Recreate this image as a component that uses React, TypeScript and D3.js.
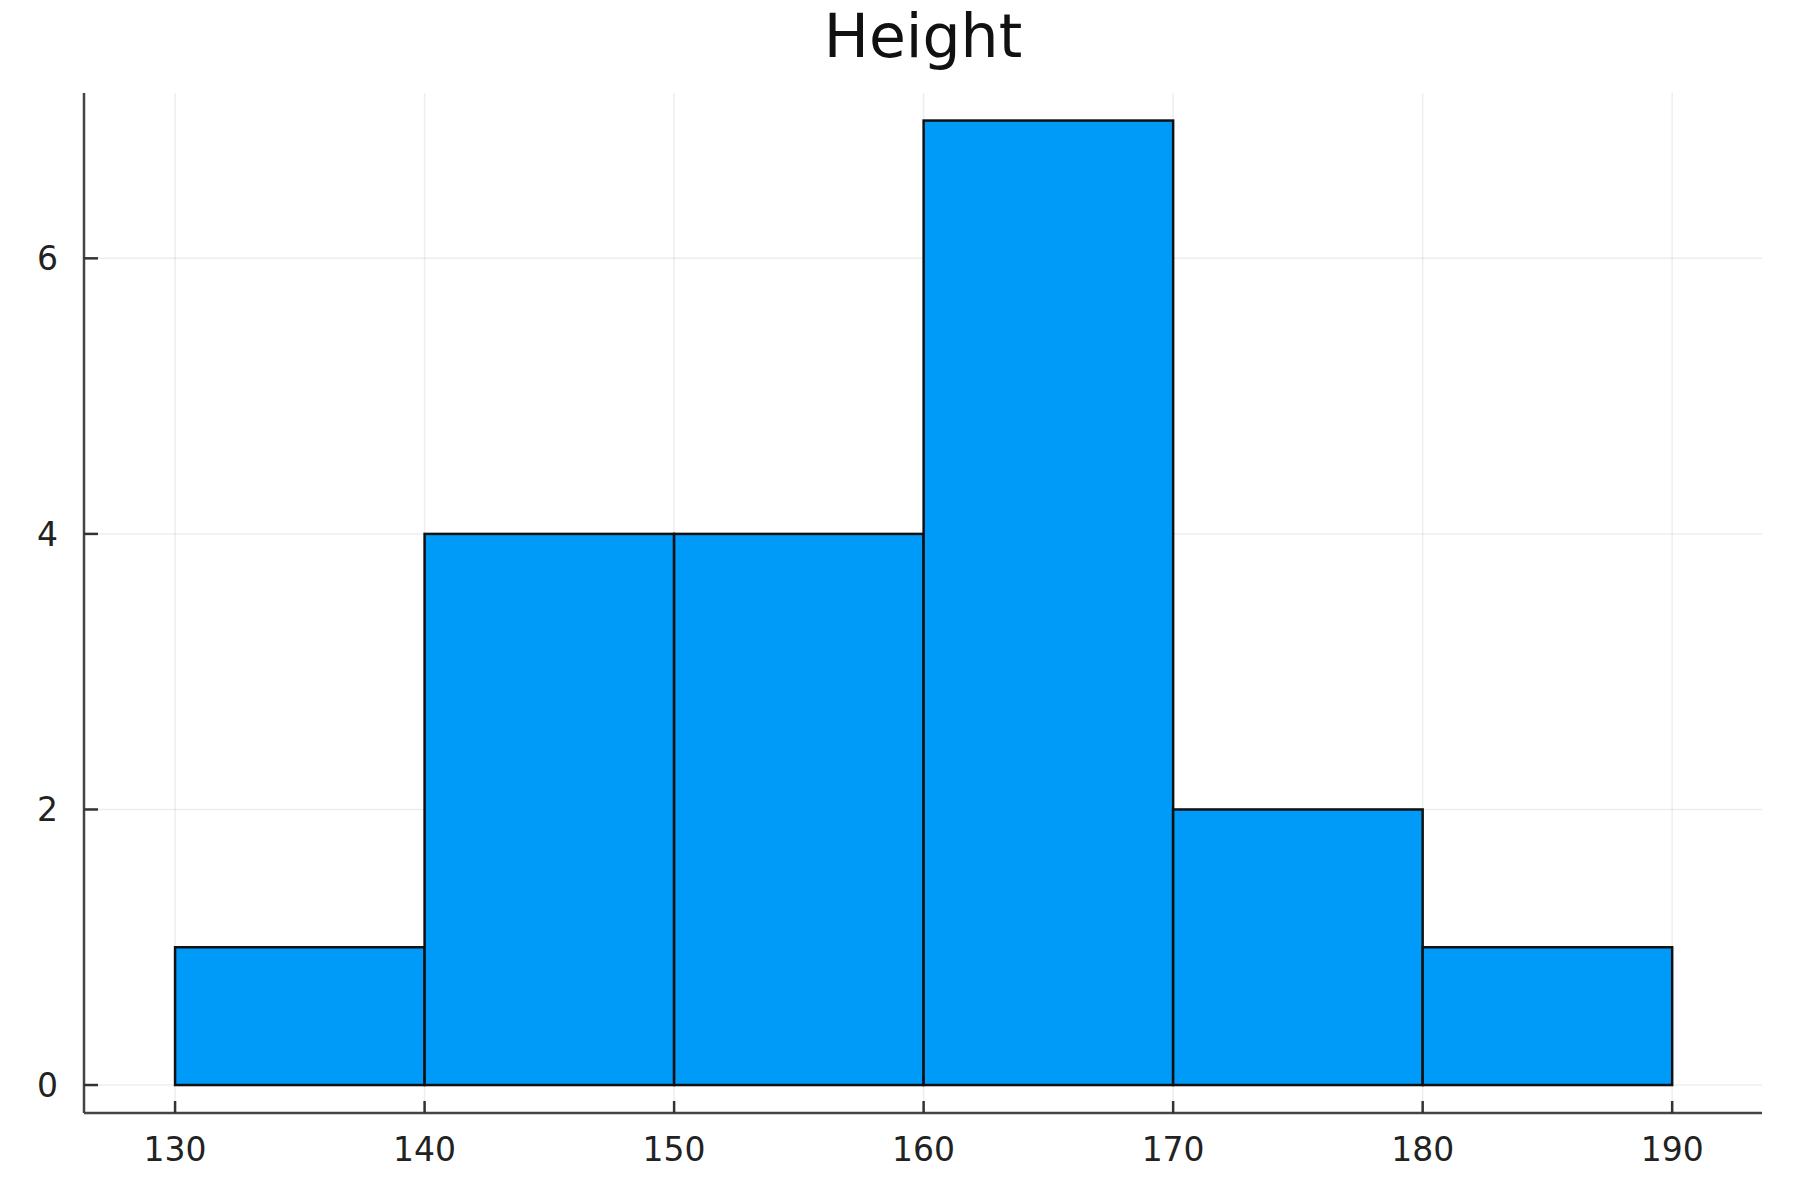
import React from "react";
import * as d3 from "d3";

const binEdges = [130, 140, 150, 160, 170, 180, 190];
const counts = [1, 4, 4, 7, 2, 1];
const xTicks = [130, 140, 150, 160, 170, 180, 190];
const yTicks = [0, 2, 4, 6];
const title = "Height";

export default function App() {
  const W = 1800, H = 1200;
  const left = 84, right = 1762, top = 93, bottom = 1113;
  const x = d3.scaleLinear().domain([126.35, 193.6]).range([left, right]);
  const y = d3.scaleLinear().domain([-0.203, 7.2]).range([bottom, top]);
  const font = "'DejaVu Sans', sans-serif";
  const bins = counts.map((c, i) => ({ x0: binEdges[i], x1: binEdges[i + 1], c }));
  return (
    <svg width={W} height={H} style={{ position: "absolute", left: 0, top: 0, background: "#fff" }}>
      <rect x={0} y={0} width={W} height={H} fill="#fff" />
      {xTicks.map((t) => (
        <line key={"gx" + t} x1={x(t)} x2={x(t)} y1={top} y2={bottom} stroke="#000" strokeOpacity={0.07} strokeWidth={1.5} />
      ))}
      {yTicks.map((t) => (
        <line key={"gy" + t} x1={left} x2={right} y1={y(t)} y2={y(t)} stroke="#000" strokeOpacity={0.07} strokeWidth={1.5} />
      ))}
      {bins.map((b, i) => (
        <rect
          key={i}
          x={x(b.x0)}
          y={y(b.c)}
          width={x(b.x1) - x(b.x0)}
          height={y(0) - y(b.c)}
          fill="#009AF9"
          stroke="#111"
          strokeWidth={2.5}
        />
      ))}
      <line x1={left} x2={left} y1={top} y2={bottom} stroke="#444" strokeWidth={2.5} />
      <line x1={left} x2={right} y1={bottom} y2={bottom} stroke="#444" strokeWidth={2.5} />
      {xTicks.map((t) => (
        <g key={"tx" + t}>
          <line x1={x(t)} x2={x(t)} y1={bottom} y2={bottom - 12} stroke="#333" strokeWidth={2.5} />
          <text x={x(t)} y={1161} textAnchor="middle" fontFamily={font} fontSize={33} fill="#222">{t}</text>
        </g>
      ))}
      {yTicks.map((t) => (
        <g key={"ty" + t}>
          <line x1={left} x2={left + 14} y1={y(t)} y2={y(t)} stroke="#333" strokeWidth={2.5} />
          <text x={58} y={y(t)} dy="0.36em" textAnchor="end" fontFamily={font} fontSize={33} fill="#222">{t}</text>
        </g>
      ))}
      <text x={(left + right) / 2} y={57} textAnchor="middle" fontFamily={font} fontSize={60} fill="#111">{title}</text>
    </svg>
  );
}
